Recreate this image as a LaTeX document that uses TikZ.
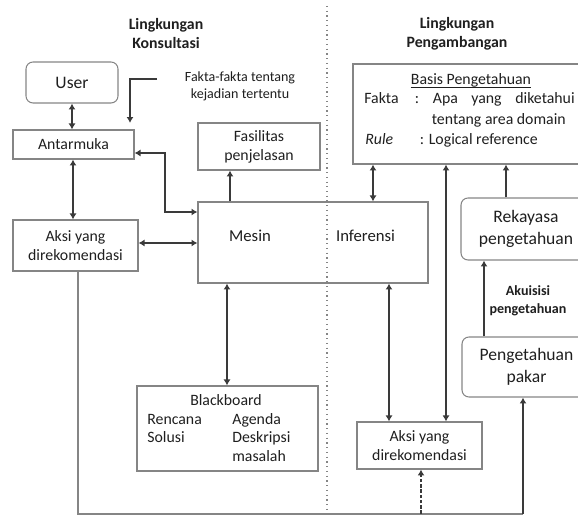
\documentclass[tikz,border=0pt]{standalone}
\usepackage{fontspec}
\setmainfont{Carlito}
\usetikzlibrary{arrows.meta}

\definecolor{boxgray}{HTML}{858585}
\definecolor{lnk}{HTML}{3A3A3A}
\definecolor{txt}{HTML}{1F1F1F}

\newdimen\pxu
\pxu=0.02cm

\tikzset{
	box/.style={draw=boxgray, line width=0.6pt, inner sep=0pt, align=center, text=txt,
		font=\fontsize{9}{10.8}\selectfont},
	softbox/.style={box, rounded corners=4pt, font=\fontsize{10}{12.5}\selectfont},
	lbl/.style={inner sep=0pt, text=txt, text height=6.3pt, text depth=1.8pt,
		font=\fontsize{9}{10.8}\selectfont},
	heading/.style={inner sep=0pt, align=center, text=txt, font=\bfseries\fontsize{9}{10.8}\selectfont},
	note/.style={inner sep=0pt, align=center, text=txt, font=\fontsize{8}{9.6}\selectfont},
	link/.style={line width=1.1pt, draw=lnk, {Latex[length=3.4pt,width=4pt]}-{Latex[length=3.4pt,width=4pt]}},
	onearrow/.style={line width=1.1pt, draw=lnk, -{Latex[length=3.4pt,width=4pt]}},
	thinline/.style={line width=0.6pt, draw=boxgray},
}

\begin{document}
\begin{tikzpicture}[x=\pxu, y=-\pxu]
	\useasboundingbox (0,0) rectangle (578,516);
	\clip (0,0) rectangle (578,516);

	% titles
	\node[heading] (tkons) at (166,33.5) {Lingkungan\\Konsultasi};
	\node[heading] (tpeng) at (457,33.5) {Lingkungan\\Pengambangan};
	\draw[boxgray, dotted, line width=0.7pt] (327,6) -- (327,516);

	% left part
	\node[softbox, minimum width=92\pxu, minimum height=41\pxu] (user) at (72,82.5) {User};
	\node[box, minimum width=121\pxu, minimum height=29\pxu] (antar) at (73.5,144.5) {Antarmuka};
	\node[box, minimum width=125\pxu, minimum height=51\pxu] (aksil) at (75.5,245.5) {Aksi yang\\direkomendasi};
	\node[note] (fakta) at (240,86.5) {Fakta-fakta tentang\\kejadian tertentu};
	\node[box, minimum width=122\pxu, minimum height=47\pxu] (fasil) at (259,146.5) {Fasilitas\\penjelasan};

	\node[box, minimum width=230\pxu, minimum height=81\pxu] (mesin) at (313,242.5) {};
	\node[lbl, font=\fontsize{9.5}{11}\selectfont] (mesinlbl) at (250,238) {Mesin};
	\node[lbl, font=\fontsize{9.5}{11}\selectfont] (inflbl) at (365.5,238) {Inferensi};

	\node[box, minimum width=181\pxu, minimum height=85\pxu] (black) at (227.5,428.5) {};
	\node[lbl] (bbtitle) at (226,402) {Blackboard};
	\node[lbl, anchor=west] (bbren) at (147,421) {Rencana};
	\node[lbl, anchor=west] (bbage) at (232,421) {Agenda};
	\node[lbl, anchor=west] (bbsol) at (147,439) {Solusi};
	\node[lbl, anchor=west] (bbdes) at (232,439) {Deskripsi};
	\node[lbl, anchor=west] (bbmas) at (232,458) {masalah};

	% right part
	\node[box, minimum width=247\pxu, minimum height=100\pxu] (basis) at (476.5,114) {};
	\node[lbl] (bptitle) at (471,81) {Basis Pengetahuan};
	\draw[txt, line width=0.45pt] ([yshift=-1.3pt]bptitle.base west) -- ([yshift=-1.3pt]bptitle.base east);
	\node[lbl, anchor=west] (bfakta) at (364,100) {Fakta};
	\node[lbl, anchor=west] (bcolon) at (414.5,100) {:};
	\node[lbl, anchor=west] (bapa) at (432.5,100) {Apa};
	\node[lbl, anchor=west] (byang) at (471,100) {yang};
	\node[lbl, anchor=west] (bdiket) at (515,100) {diketahui};
	\node[lbl, anchor=west] (btentang) at (431.5,121) {tentang area domain};
	\node[lbl, anchor=west] (brule) at (365,141) {\textit{Rule}};
	\node[lbl, anchor=west] (blogic) at (419.5,141) {: Logical reference};

	\node[softbox, minimum width=130\pxu, minimum height=62\pxu] (rekayasa) at (526,229) {Rekayasa\\pengetahuan};
	\node[note, font=\bfseries\fontsize{8}{10.2}\selectfont] (akuisisi) at (528,301) {Akuisisi\\pengetahuan};
	\node[softbox, minimum width=129\pxu, minimum height=60\pxu] (pakar) at (526.5,367) {Pengetahuan\\pakar};
	\node[box, minimum width=125\pxu, minimum height=47\pxu] (aksir) at (419.5,445.5) {Aksi yang\\direkomendasi};

	% x positions of the vertical connectors
	\coordinate (xua) at (72,0);
	\coordinate (xaa) at (73,0);
	\coordinate (xfas) at (230,0);
	\coordinate (xbb) at (227,0);
	\coordinate (xbm) at (373,0);
	\coordinate (xba) at (446,0);
	\coordinate (xrb) at (506,0);
	\coordinate (xma) at (389,0);
	\coordinate (xpr) at (484,0);
	\coordinate (xda) at (421,0);
	\coordinate (xbot) at (78,0);
	\coordinate (yam) at (0,243);
	\coordinate (elbow) at (165,212);
	\coordinate (base) at (523,514);
	\coordinate (fktail) at (157,79);
	\coordinate (fkhead) at (130,123);

	\draw[link] (xua |- user.south) -- (xua |- antar.north);
	\draw[link] (xaa |- antar.south) -- (xaa |- aksil.north);
	\draw[link] (aksil.east |- yam) -- (mesin.west |- yam);
	\draw[link] ([yshift=-8.5\pxu]antar.east) -| (elbow) -- (elbow -| mesin.west);
	\draw[onearrow] (fktail) -| (fkhead);
	\draw[onearrow] (xfas |- mesin.north) -- (xfas |- fasil.south);
	\draw[link] (xbb |- mesin.south) -- (xbb |- black.north);
	\draw[link] (xbm |- basis.south) -- (xbm |- mesin.north);
	\draw[link] (xba |- basis.south) -- (xba |- aksir.north);
	\draw[link] (xma |- mesin.south) -- (xma |- aksir.north);
	\draw[onearrow] (xrb |- rekayasa.north) -- (xrb |- basis.south);
	\draw[onearrow] (xpr |- pakar.north) -- (xpr |- rekayasa.south);

	\draw[thinline] (xbot |- aksil.south) |- (base);
	\draw[onearrow] (base) -- (base |- pakar.south);
	\draw[onearrow, dash pattern=on 2pt off 1pt] (xda |- base) -- (xda |- aksir.south);
\end{tikzpicture}
\end{document}
